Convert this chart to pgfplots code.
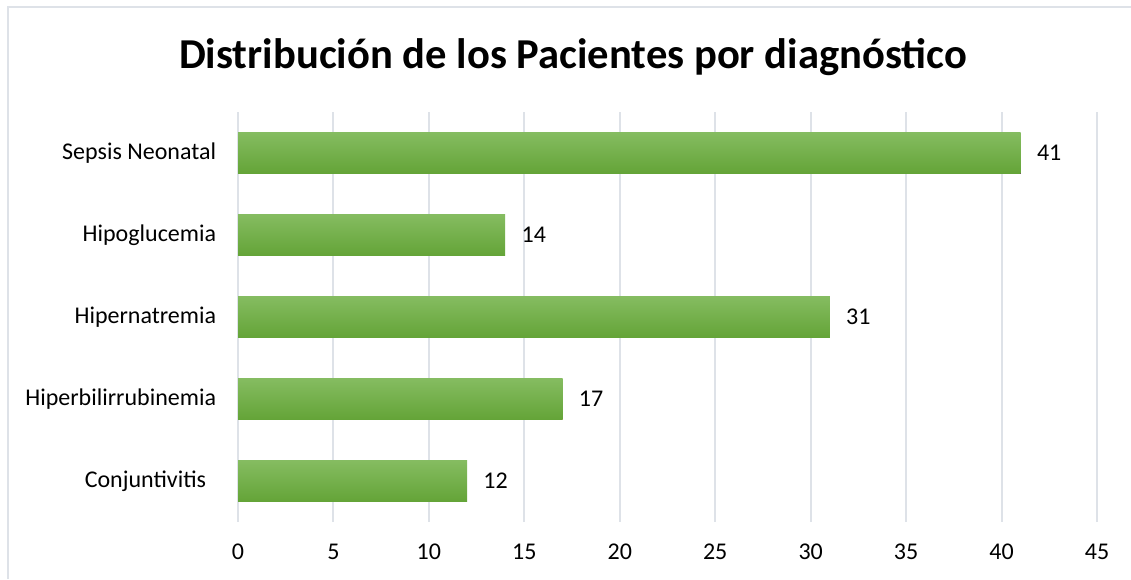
\documentclass[border=0pt]{standalone}
\usepackage{pgfplots}
\pgfplotsset{compat=1.18}
\usepackage{fontspec}
\setmainfont{Carlito}

\definecolor{gridc}{RGB}{222,226,232}
\definecolor{bartop}{RGB}{133,188,97}
\definecolor{barbot}{RGB}{100,164,55}

\begin{document}
\begin{tikzpicture}[x=0.5pt,y=0.5pt]
% canvas 1131 x 579 px, 1 px = 0.5pt
\path[use as bounding box] (0,0) rectangle (1131,579);
\draw[gridc,line width=1pt] (7.5,0) -- (7.5,571.5) -- (1131,571.5);

\node[font=\bfseries\fontsize{21.3}{25}\selectfont] at (573,522) {Distribución de los Pacientes por diagnóstico};

\begin{axis}[
    at={(119pt,28.5pt)}, anchor=south west,
    scale only axis,
    width=429.5pt, height=205pt,
    xbar, bar width=20.5pt, bar shift=0pt,
    xmin=0, xmax=45,
    ymin=-0.5, ymax=4.5,
    xtick={0,5,...,45},
    ytick={0,1,2,3,4},
    yticklabels={Conjuntivitis\rule{5pt}{0pt}, Hiperbilirrubinemia, Hipernatremia, Hipoglucemia, Sepsis Neonatal},
    tick style={draw=none},
    axis line style={draw=none},
    axis x line*=bottom,
    axis y line*=left,
    xmajorgrids=true,
    grid style={gridc, line width=1pt},
    tick label style={font=\fontsize{12}{14}\selectfont, black},
    /pgf/number format/assume math mode=true,
    xticklabel style={inner sep=0pt, yshift=-11pt},
    yticklabel style={inner sep=0pt, xshift=-6.5pt},
    nodes near coords,
    nodes near coords style={font=\fontsize{12}{14}\selectfont, text=black, anchor=west, inner sep=0pt, xshift=8pt, /pgf/number format/assume math mode=true},
    every axis plot/.append style={draw=none, top color=bartop, bottom color=barbot},
]
\draw[gridc, line width=1pt] (axis cs:0,-0.5) -- (axis cs:0,4.5);
\addplot coordinates {(12,0)};
\addplot coordinates {(17,1)};
\addplot coordinates {(31,2)};
\addplot coordinates {(14,3)};
\addplot coordinates {(41,4)};
\end{axis}
\end{tikzpicture}
\end{document}
